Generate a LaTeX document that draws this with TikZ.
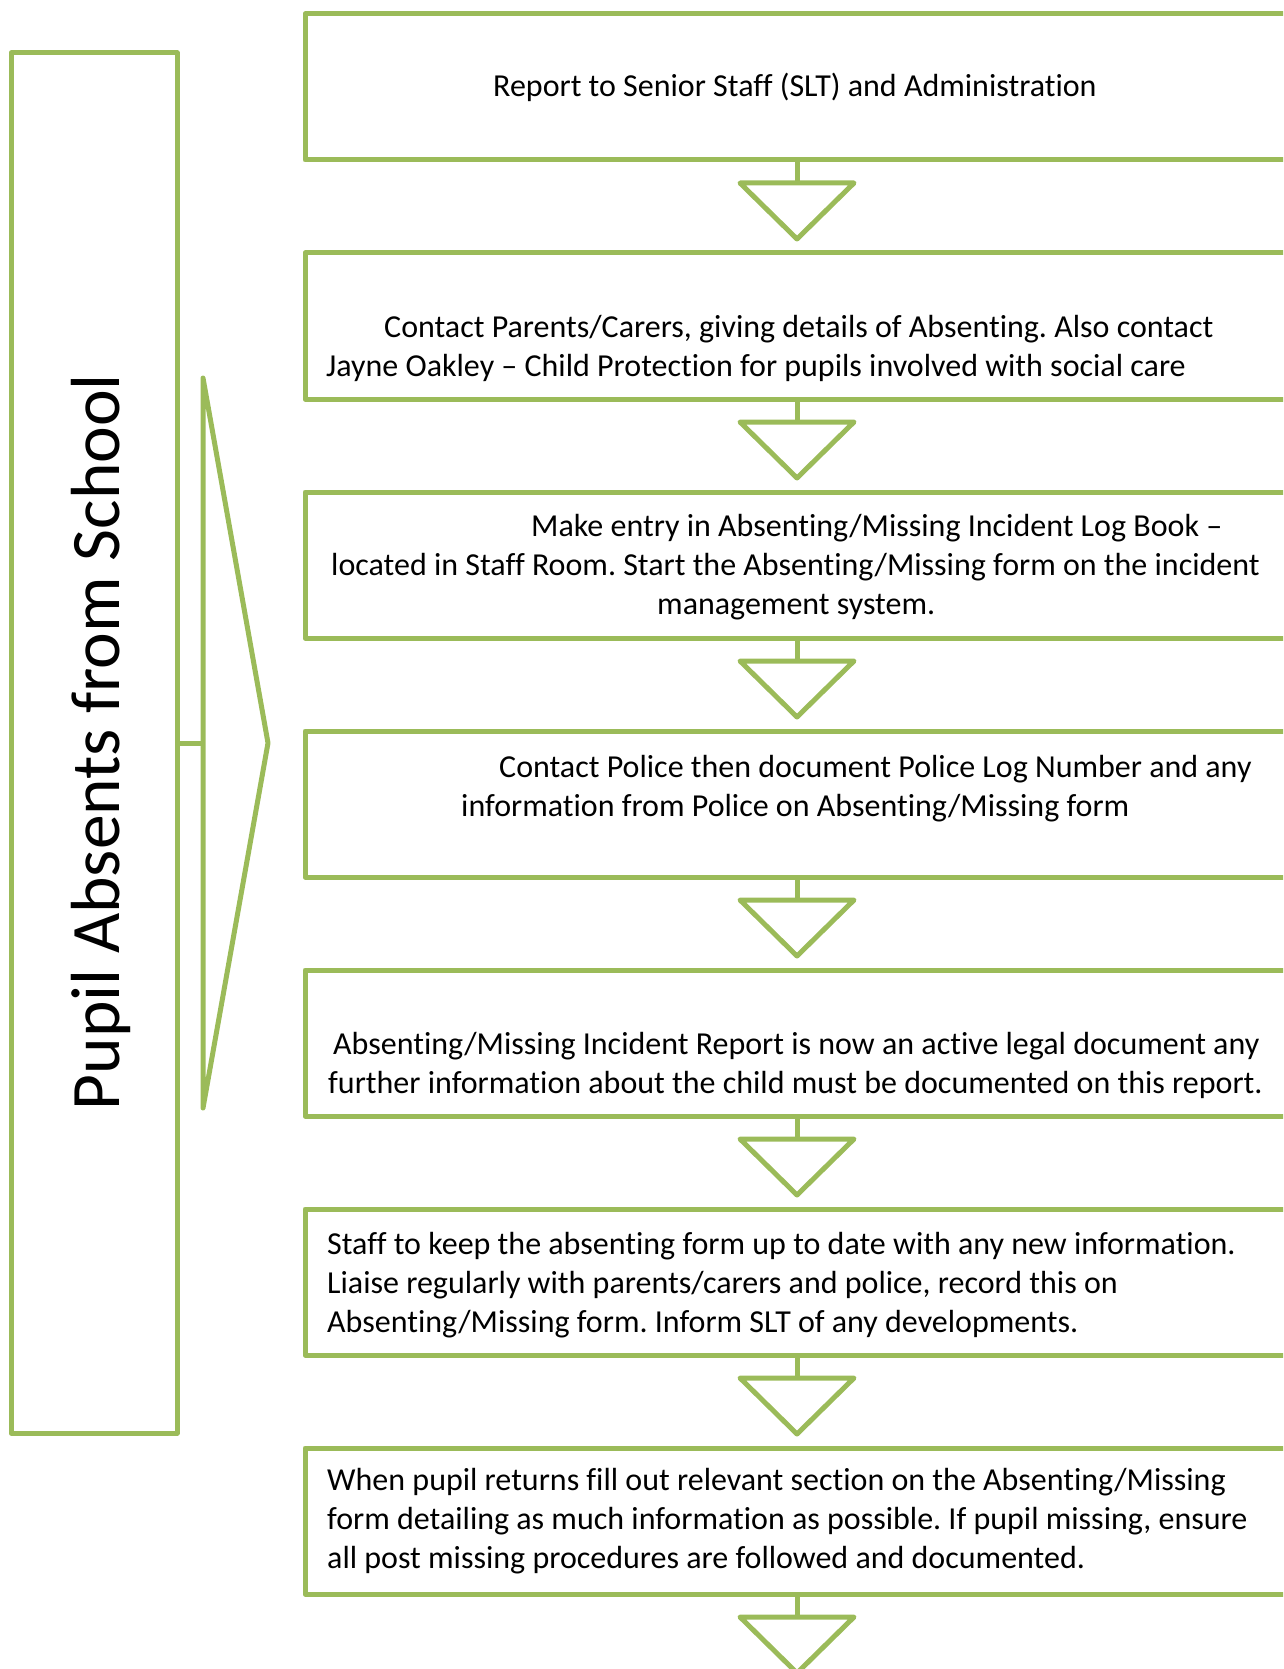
\documentclass[tikz,border=0pt]{standalone}
\usepackage{fontspec}
\setmainfont{Carlito}[Ligatures=NoCommon]
\usetikzlibrary{positioning}
\definecolor{olive}{HTML}{9BBB59}
\frenchspacing

\begin{document}
\begin{tikzpicture}[x=1pt,y=-1pt,
    box/.style={draw=olive, line width=5pt, line join=round,
        minimum width=984pt, minimum height=146pt, inner sep=0pt, outer sep=0pt},
    txt/.style={anchor=west, align=left, inner sep=0pt,
        font=\fontsize{32}{39}\selectfont},
    arr/.style={draw=olive, line width=5pt, line join=round}]
    \useasboundingbox (0,0) rectangle (1283,1669);
    \clip (0,0) rectangle (1283,1669);
    % side panel
    \node[box, minimum width=166pt, minimum height=1380pt] (side) at (94,743) {};
    \node[rotate=90, inner sep=0pt, font=\fontsize{69.5}{72}\selectfont] (title) at (101,742) {Pupil Absents from School};
    \draw[arr] (203,378) -- (268,743) -- (203,1108) -- cycle;
    \coordinate (chev) at (203,743);
    \draw[arr] (side.east) -- (chev);
    % steps
    \node[box] (b1) at (797,87) {};
    \foreach \i [count=\j from 2] in {1,...,6}
        \node[box, below=93pt of b\i] (b\j) {};
    \foreach \i in {1,...,7} {
        \draw[arr] (b\i.south) -- ++(0,23) coordinate (top\i);
        \draw[arr] (top\i) ++(-57,0) -- ++(114,0) -- ++(-57,56) -- cycle;
    }
    \node[txt] (t1) at (493,87) {Report to Senior Staff (SLT) and Administration};
    \node[txt] (t2) at (326,348.5) {\hspace*{58pt}Contact Parents/Carers, giving details of Absenting. Also contact\\Jayne Oakley – Child Protection for pupils involved with social care};
    \node[txt] (t3) at (331,567) {\hspace*{200pt}Make entry in Absenting/Missing Incident Log Book –\\located in Staff Room. Start the Absenting/Missing form on the incident\\\hspace*{326pt}management system.};
    \node[txt] (t4) at (461,789) {\hspace*{38pt}Contact Police then document Police Log Number and any\\information from Police on Absenting/Missing form};
    \node[txt] (t5) at (328,1065) {\hspace*{5pt}Absenting/Missing Incident Report is now an active legal document any\\further information about the child must be documented on this report.};
    \node[txt] (t6) at (327,1285) {Staff to keep the absenting form up to date with any new information.\\Liaise regularly with parents/carers and police, record this on\\Absenting/Missing form. Inform SLT of any developments.};
    \node[txt] (t7) at (327,1521.5) {When pupil returns fill out relevant section on the Absenting/Missing\\form detailing as much information as possible. If pupil missing, ensure\\all post missing procedures are followed and documented.};
\end{tikzpicture}
\end{document}
